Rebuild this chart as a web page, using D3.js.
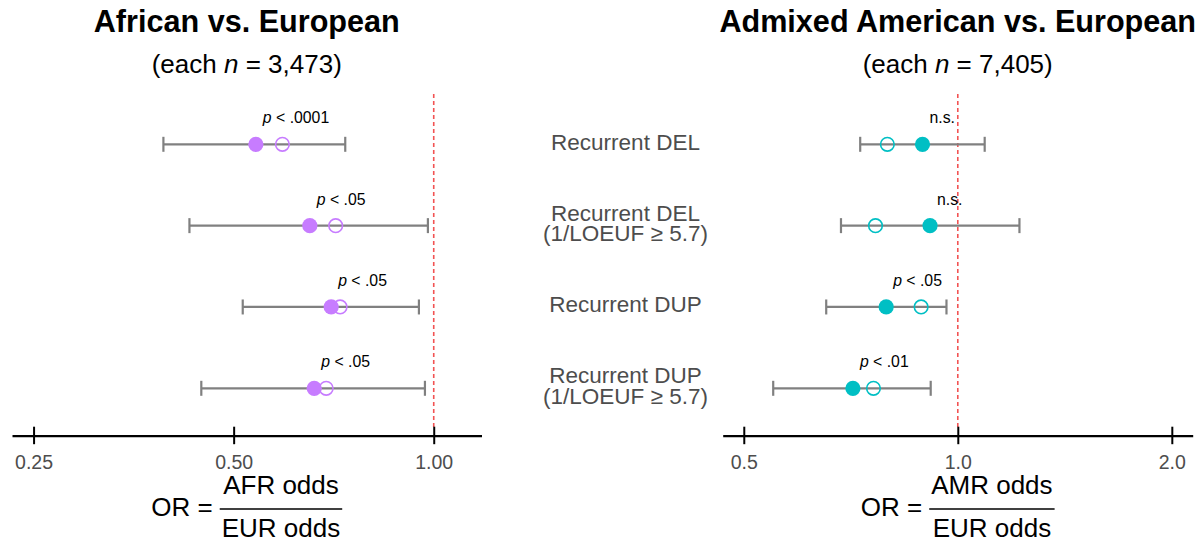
<!DOCTYPE html>
<html>
<head>
<meta charset="utf-8">
<script src="https://cdn.jsdelivr.net/npm/d3@7"></script>
<style>
  html, body { margin: 0; padding: 0; background: #fff; }
  svg { display: block; font-family: "Liberation Sans", Arial, Helvetica, sans-serif; }
</style>
</head>
<body>
<svg id="chart" width="1200" height="539"></svg>
<script>
// Row labels (top to bottom)
const categories = [
  "Recurrent DEL",
  "Recurrent DEL\n(1/LOEUF ≥ 5.7)",
  "Recurrent DUP",
  "Recurrent DUP\n(1/LOEUF ≥ 5.7)"
];

// African vs. European: odds ratio (filled), 95% CI, second estimate (hollow)
const afrOR     = [0.540, 0.651, 0.701, 0.661];
const afrLo     = [0.392, 0.429, 0.516, 0.447];
const afrHi     = [0.736, 0.980, 0.950, 0.970];
const afrHollow = [0.592, 0.712, 0.723, 0.689];
const afrP      = ["p < .0001", "p < .05", "p < .05", "p < .05"];

// Admixed American vs. European
const amrOR     = [0.892, 0.914, 0.793, 0.712];
const amrLo     = [0.729, 0.685, 0.653, 0.550];
const amrHi     = [1.091, 1.221, 0.964, 0.916];
const amrHollow = [0.796, 0.766, 0.888, 0.761];
const amrP      = ["n.s.", "n.s.", "p < .05", "p < .01"];

// Axis ticks
const afrTicks = [0.25, 0.5, 1];
const amrTicks = [0.5, 1, 2];

const svg = d3.select("#chart");

const y = d3.scalePoint().domain(categories).range([144.3, 388.3]);

const panels = [
  {
    title: "African vs. European", n: "3,473", num: "AFR odds",
    or: afrOR, lo: afrLo, hi: afrHi, hollow: afrHollow, p: afrP,
    color: "#C77CFF", ticks: afrTicks, fmt: d3.format(".2f"),
    x: d3.scaleLog().base(2).domain([0.232, 1.18]).range([12, 481.5])
  },
  {
    title: "Admixed American vs. European", n: "7,405", num: "AMR odds",
    or: amrOR, lo: amrLo, hi: amrHi, hollow: amrHollow, p: amrP,
    color: "#00BFC4", ticks: amrTicks, fmt: d3.format(".1f"),
    x: d3.scaleLog().base(2).domain([0.467, 2.14]).range([722.7, 1192.7])
  }
];

const axisY = 435.7;

panels.forEach(P => {
  const x = P.x;
  const cx = (x.range()[0] + x.range()[1]) / 2;
  const g = svg.append("g");

  // title + subtitle
  g.append("text")
    .attr("x", cx).attr("y", 32)
    .attr("text-anchor", "middle")
    .attr("font-size", 30.6).attr("font-weight", "bold").attr("fill", "#000")
    .text(P.title);
  const sub = g.append("text")
    .attr("x", cx).attr("y", 73)
    .attr("text-anchor", "middle")
    .attr("font-size", 26).attr("fill", "#000");
  sub.append("tspan").text("(each ");
  sub.append("tspan").attr("font-style", "italic").text("n");
  sub.append("tspan").text(" = " + P.n + ")");

  // reference line at OR = 1
  g.append("line")
    .attr("x1", x(1)).attr("x2", x(1))
    .attr("y1", 94).attr("y2", 430)
    .attr("stroke", "#F25353").attr("stroke-width", 1.6)
    .attr("stroke-dasharray", "4,3");

  // confidence intervals
  const rows = g.selectAll("g.row")
    .data(categories.map((c, i) => ({
      c, or: P.or[i], lo: P.lo[i], hi: P.hi[i], hollow: P.hollow[i], p: P.p[i]
    })))
    .join("g").attr("class", "row")
    .attr("transform", d => `translate(0,${y(d.c)})`);

  rows.append("line")
    .attr("x1", d => x(d.lo)).attr("x2", d => x(d.hi))
    .attr("stroke", "#808080").attr("stroke-width", 2.2);
  rows.selectAll("line.cap")
    .data(d => [d.lo, d.hi])
    .join("line").attr("class", "cap")
    .attr("x1", v => x(v)).attr("x2", v => x(v))
    .attr("y1", -7.5).attr("y2", 7.5)
    .attr("stroke", "#808080").attr("stroke-width", 2.2);

  // hollow estimate, then filled odds ratio
  rows.append("circle")
    .attr("cx", d => x(d.hollow)).attr("r", 6.8)
    .attr("fill", "#fff").attr("fill-opacity", 0)
    .attr("stroke", P.color).attr("stroke-width", 1.6);
  rows.append("circle")
    .attr("cx", d => x(d.or)).attr("r", 7.6)
    .attr("fill", P.color);

  // significance labels
  const pl = rows.append("text")
    .attr("x", d => x(d.or) + 7).attr("y", -21)
    .attr("font-size", 15.8).attr("fill", "#000");
  pl.each(function(d) {
    const t = d3.select(this);
    if (d.p.startsWith("p ")) {
      t.append("tspan").attr("font-style", "italic").text("p");
      t.append("tspan").text(d.p.slice(1));
    } else {
      t.text(d.p);
    }
  });

  // x axis
  const axis = d3.axisBottom(x)
    .tickValues(P.ticks)
    .tickFormat(P.fmt)
    .tickSizeOuter(0)
    .tickSizeInner(9)
    .tickPadding(10);
  const ag = g.append("g").attr("transform", `translate(0,${axisY})`).call(axis);
  ag.attr("font-size", 19.5).attr("font-family", "'Liberation Sans', Arial, sans-serif");
  ag.select(".domain").attr("stroke", "#000").attr("stroke-width", 2.2);
  ag.selectAll(".tick line").attr("y1", -9).attr("y2", 8.5)
    .attr("stroke", "#000").attr("stroke-width", 2);
  ag.selectAll(".tick text").attr("fill", "#4d4d4d");

  // axis title: OR = num / EUR odds
  const tg = g.append("g");
  const lhs = tg.append("text").attr("font-size", 26).attr("fill", "#000")
    .attr("y", 516).text("OR =");
  const numT = tg.append("text").attr("font-size", 26).attr("fill", "#000")
    .attr("text-anchor", "middle").attr("y", 494).text(P.num);
  const denT = tg.append("text").attr("font-size", 26).attr("fill", "#000")
    .attr("text-anchor", "middle").attr("y", 536.5).text("EUR odds");
  const w1 = lhs.node().getComputedTextLength();
  const fw = Math.max(numT.node().getComputedTextLength(), denT.node().getComputedTextLength()) + 4;
  const gap = 7;
  const x0 = cx - (w1 + gap + fw) / 2;
  lhs.attr("x", x0);
  const fx = x0 + w1 + gap;
  numT.attr("x", fx + fw / 2);
  denT.attr("x", fx + fw / 2);
  tg.append("line").attr("x1", fx).attr("x2", fx + fw)
    .attr("y1", 509).attr("y2", 509)
    .attr("stroke", "#000").attr("stroke-width", 1.3);
});

// category labels between the panels
const lab = svg.append("g");
categories.forEach(c => {
  const lines = c.split("\n");
  const lh = 20.5;
  const center = y(c) - 2.8;
  const t = lab.append("text")
    .attr("text-anchor", "middle")
    .attr("font-size", 22.5).attr("fill", "#4d4d4d");
  lines.forEach((s, i) => {
    const base = center + 8 - (lines.length - 1) * lh / 2 + i * lh;
    t.append("tspan").attr("x", 625.5).attr("y", base).text(s);
  });
});
</script>
</body>
</html>
